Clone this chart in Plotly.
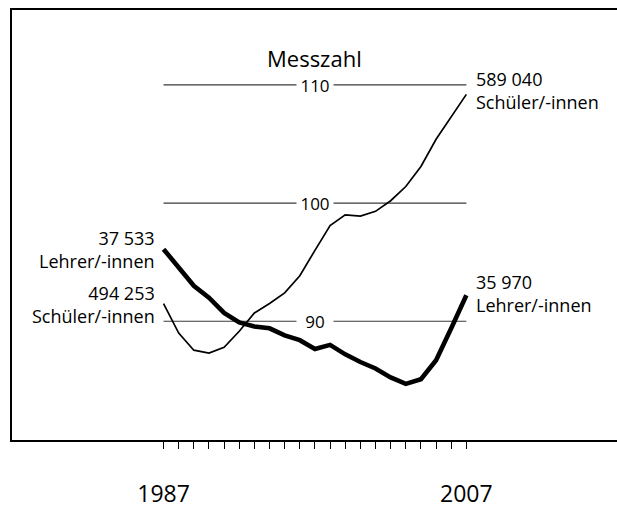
import plotly.graph_objects as go

years = list(range(1987, 2008))
lehrer = [96.1, 94.5, 93.0, 92.0, 90.7, 89.9, 89.55, 89.4, 88.8, 88.4, 87.65,
          88.0, 87.2, 86.55, 86.0, 85.25, 84.7, 85.1, 86.7, 89.4, 92.2]
schueler = [91.5, 89.0, 87.55, 87.3, 87.8, 89.15, 90.7, 91.5, 92.4, 93.85, 96.0,
            98.1, 99.0, 98.9, 99.3, 100.2, 101.4, 103.1, 105.4, 107.3, 109.2]
grid_levels = [110, 100, 90]
tick_labels = {1987: "1987", 2007: "2007"}
lehrer_name = "Lehrer/-innen"
schueler_name = "Schüler/-innen"
lehrer_counts = ["37 533", "35 970"]
schueler_counts = ["494 253", "589 040"]
title_text = "Messzahl"

FONT = "Open Sans"
fig = go.Figure()

# grid lines
for g in grid_levels:
    fig.add_shape(type="line", x0=years[0], x1=years[-1], y0=g, y1=g,
                  xref="x", yref="y", line=dict(color="#3a3a3a", width=1.2), layer="below")
    fig.add_annotation(x=(years[0] + years[-1]) / 2, y=g, text=str(g), showarrow=False,
                       font=dict(family=FONT, size=17, color="black"),
                       bgcolor="white", borderpad=0, height=18, width=36)

fig.add_trace(go.Scatter(x=years, y=schueler, mode="lines",
                         line=dict(color="black", width=1.7), hoverinfo="skip"))
fig.add_trace(go.Scatter(x=years, y=lehrer, mode="lines",
                         line=dict(color="black", width=4.6), hoverinfo="skip"))

lab_font = dict(family=FONT, size=18, color="black")
fig.add_annotation(x=years[0], y=lehrer[0], text=f"{lehrer_counts[0]}<br>{lehrer_name}",
                   xanchor="right", yanchor="middle", align="right", showarrow=False,
                   xshift=-7, font=lab_font)
fig.add_annotation(x=years[0], y=schueler[0], text=f"{schueler_counts[0]}<br>{schueler_name}",
                   xanchor="right", yanchor="middle", align="right", showarrow=False,
                   xshift=-7, yshift=-1, font=lab_font)
fig.add_annotation(x=years[-1], y=schueler[-1], text=f"{schueler_counts[1]}<br>{schueler_name}",
                   xanchor="left", yanchor="middle", align="left", showarrow=False,
                   xshift=8, yshift=4, font=lab_font)
fig.add_annotation(x=years[-1], y=lehrer[-1], text=f"{lehrer_counts[1]}<br>{lehrer_name}",
                   xanchor="left", yanchor="middle", align="left", showarrow=False,
                   xshift=8, yshift=2, font=lab_font)
fig.add_annotation(x=(years[0] + years[-1]) / 2, y=112.1, yshift=2, text=title_text,
                   showarrow=False, font=dict(family=FONT, size=22, color="black"), height=26)

fig.update_layout(
    width=617, height=509,
    margin=dict(l=12, r=0, t=10, b=55),
    paper_bgcolor="white", plot_bgcolor="white",
    showlegend=False,
    xaxis=dict(range=[1976.99, 2016.95], showgrid=False, zeroline=False,
               showline=True, linecolor="black", linewidth=2, mirror=True,
               ticks="outside", ticklen=7, tickwidth=1, tickcolor="black",
               tickvals=years, ticktext=[tick_labels.get(y, "") for y in years],
               tickfont=dict(family=FONT, size=23, color="black"),
               ticklabelstandoff=25),
    yaxis=dict(range=[79.95, 116.34], showgrid=False, zeroline=False,
               showline=True, linecolor="black", linewidth=2, mirror=False,
               showticklabels=False, ticks=""),
)

fig.write_html("out.html", config={"displayModeBar": False},
               post_script="document.body.style.margin='0';document.body.style.overflow='hidden';")
